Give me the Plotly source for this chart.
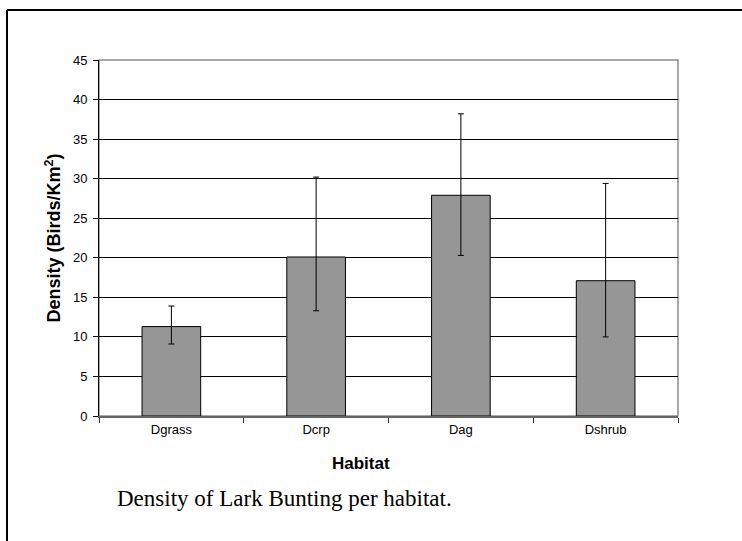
import plotly.graph_objects as go

habitats = ["Dgrass", "Dcrp", "Dag", "Dshrub"]
density = [11.3, 20.1, 27.9, 17.1]
err_upper = [13.9, 30.2, 38.2, 29.4]
err_lower = [9.1, 13.3, 20.3, 10.0]
y_ticks = [0, 5, 10, 15, 20, 25, 30, 35, 40, 45]

plus = [u - v for u, v in zip(err_upper, density)]
minus = [v - l for v, l in zip(density, err_lower)]

W, H = 742, 541
L, R, T, B = 99, 64, 60, 125
pw, ph = W - L - R, H - T - B

def px(x):
    return (x - L) / pw

def py(y):
    return (H - B - y) / ph

font_sans = "Arial, Liberation Sans, sans-serif"

fig = go.Figure()
fig.add_trace(go.Bar(
    x=habitats, y=density,
    marker=dict(color="#969696", line=dict(color="black", width=1)),
    error_y=dict(type="data", symmetric=False, array=plus, arrayminus=minus,
                 color="black", thickness=1, width=3),
    showlegend=False,
))

fig.update_layout(
    width=W, height=H,
    margin=dict(l=L, r=R, t=T, b=B),
    paper_bgcolor="white", plot_bgcolor="white",
    bargap=0.595,
    font=dict(family=font_sans, size=13, color="black"),
    xaxis=dict(
        type="category", showgrid=False, showline=True, linecolor="#666666", linewidth=2,
        ticks="outside", tickson="boundaries", ticklen=5, tickcolor="#333333",
        tickfont=dict(size=13, color="black"), zeroline=False,
    ),
    yaxis=dict(
        range=[0, 45], tickvals=y_ticks, showgrid=True, gridcolor="black", gridwidth=1,
        showline=True, linecolor="black", linewidth=1, ticks="outside", ticklen=5,
        tickcolor="black", tickfont=dict(size=13, color="black"), zeroline=False,
        ticklabelstandoff=3,
        title=dict(text="<b>Density (Birds/Km<sup>2</sup>)</b>", font=dict(size=18), standoff=7),
    ),
    shapes=[
        dict(type="rect", xref="paper", yref="paper", x0=0, x1=1, y0=0, y1=1,
             line=dict(color="#8c8c8c", width=1.5), layer="below"),
        dict(type="line", xref="paper", yref="paper", x0=px(7), x1=px(742), y0=py(10), y1=py(10),
             line=dict(color="black", width=2)),
        dict(type="line", xref="paper", yref="paper", x0=px(7), x1=px(7), y0=py(10), y1=py(541),
             line=dict(color="black", width=2)),
    ],
    annotations=[
        dict(text="<b>Habitat</b>", xref="paper", yref="paper", x=px(361), y=py(464),
             xanchor="center", yanchor="middle", showarrow=False, font=dict(size=17, family=font_sans)),
        dict(text="Density of Lark Bunting per habitat.", xref="paper", yref="paper",
             x=px(115), y=py(498), xanchor="left", yanchor="middle", showarrow=False,
             font=dict(size=23, family="Times New Roman, Liberation Serif, serif", color="black")),
    ],
)

fig.write_html("out.html", config={"displayModeBar": False},
               post_script="document.body.style.margin='0';document.body.style.overflow='hidden';")
